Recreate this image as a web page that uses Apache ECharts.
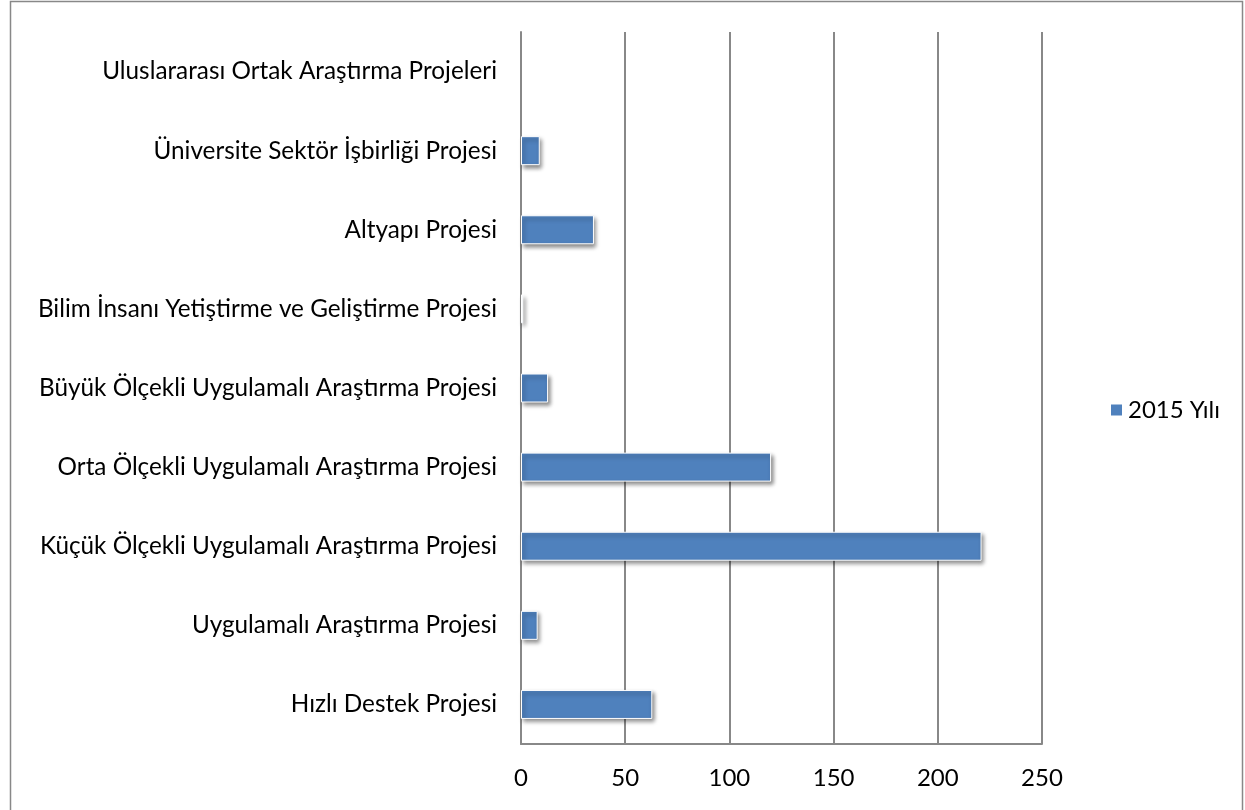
<!DOCTYPE html>
<html><head><meta charset="utf-8">
<script src="https://cdn.jsdelivr.net/npm/echarts@6/dist/echarts.min.js"></script>
<style>html,body{margin:0;padding:0;background:#fff}#c{width:1245px;height:810px}</style>
</head><body><div id="c"></div>
<script>
const categories = [
  "Hızlı Destek Projesi",
  "Uygulamalı Araştırma Projesi",
  "Küçük Ölçekli Uygulamalı Araştırma Projesi",
  "Orta Ölçekli Uygulamalı Araştırma Projesi",
  "Büyük Ölçekli Uygulamalı Araştırma Projesi",
  "Bilim İnsanı Yetiştirme ve Geliştirme Projesi",
  "Altyapı Projesi",
  "Üniversite Sektör İşbirliği Projesi",
  "Uluslararası Ortak Araştırma Projeleri"
];
const values2015 = [63, 8, 221, 120, 13, 1, 35, 9, 0];
const seriesName = "2015 Yılı";
const xTicks = [0, 50, 100, 150, 200, 250];

const chart = echarts.init(document.getElementById('c'));
const font = "Lato, 'Open Sans', sans-serif";
const barData = values2015.map(v => v === 0
  ? {value: v, itemStyle: {borderWidth: 0, shadowBlur: 0, shadowOffsetX: 0, shadowOffsetY: 0, shadowColor: 'transparent'}}
  : v);
chart.setOption({
  animation: false,
  graphic: [{type:'rect', shape:{x:10.5,y:1.5,width:1232,height:820}, style:{fill:'none', stroke:'#888', lineWidth:1.5}, silent:true}],
  grid: {left: 521, right: 1245-1042, top: 32, bottom: 810-744},
  legend: {
    data:[seriesName], left: 1104, top: 393, itemWidth: 13, itemHeight: 13, itemGap: 9,
    icon: 'rect',
    textStyle:{fontFamily:font, fontSize:24, color:'#000'}
  },
  xAxis: {
    type:'value', min: xTicks[0], max: xTicks[xTicks.length-1], interval: 50,
    axisLine:{show:true, lineStyle:{color:'#888', width:2}},
    axisTick:{show:false},
    splitLine:{show:true, lineStyle:{color:'#888', width:2}},
    axisLabel:{fontFamily:font, fontSize:24, color:'#000', margin:22}
  },
  yAxis: {
    type:'category', data: categories,
    axisLine:{show:true, lineStyle:{color:'#888', width:2}},
    axisTick:{show:false},
    axisLabel:{fontFamily:font, fontSize:24.3, color:'#000', margin:24}
  },
  series: [{
    name: seriesName, type:'bar', data: barData, barWidth: 29,
    itemStyle:{color:'#4f81bd', borderColor:'#fff', borderWidth:1,
      shadowColor:'rgba(0,0,0,0.45)', shadowBlur:4, shadowOffsetX:2, shadowOffsetY:3}
  }]
});
</script></body></html>
